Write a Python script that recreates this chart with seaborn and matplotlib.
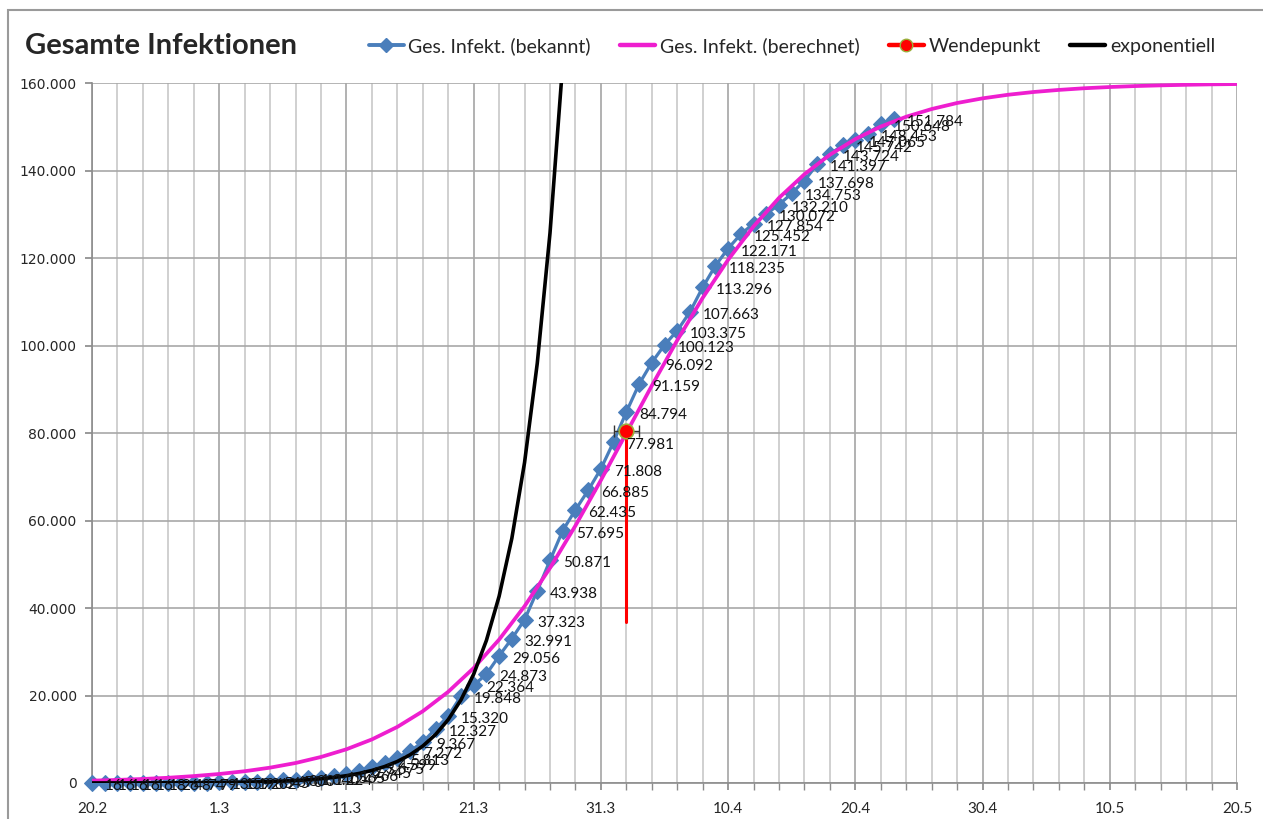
import numpy as np
import pandas as pd
import matplotlib
matplotlib.use("Agg")
import matplotlib.pyplot as plt
from matplotlib.lines import Line2D
from matplotlib.patches import Rectangle
from matplotlib.ticker import FixedLocator, FuncFormatter
import matplotlib.dates as mdates
import seaborn as sns

# ---------------- data ----------------
title = "Gesamte Infektionen"
series_names = ["Ges. Infekt. (bekannt)", "Ges. Infekt. (berechnet)", "Wendepunkt", "exponentiell"]
start_date = "2020-02-20"
end_date = "2020-05-20"
x_tick_labels = ["20.2", "1.3", "11.3", "21.3", "31.3", "10.4", "20.4", "30.4", "10.5", "20.5"]
y_ticks = [0, 20000, 40000, 60000, 80000, 100000, 120000, 140000, 160000]

# known total infections, one value per day from 20.2
known_values = [16, 16, 16, 16, 16, 18, 26, 48, 74, 79,
                130, 159, 196, 262, 545, 670, 800, 1040, 1224, 1565,
                1966, 2745, 3675, 4599, 5813, 7272, 9367, 12327, 15320, 19848,
                22364, 24873, 29056, 32991, 37323, 43938, 50871, 57695, 62435, 66885,
                71808, 77981, 84794, 91159, 96092, 100123, 103375, 107663, 113296, 118235,
                122171, 125452, 127854, 130072, 132210, 134753, 137698, 141397, 143724, 145742,
                147065, 148453, 150648, 151784]

# calculated curve, one value every 2 days from 20.2 to 20.5
calc_values = [540, 700, 920, 1200, 1580, 2060, 2690, 3510, 4570, 5950,
               7710, 9960, 12820, 16400, 20850, 26280, 32780, 40410, 49140, 58820,
               69200, 80000, 90800, 101180, 110880, 119590, 127220, 133740, 139150, 143600,
               147180, 150040, 152290, 154050, 155430, 156490, 157310, 157940, 158420, 158800,
               159080, 159300, 159460, 159590, 159690, 159760]

# exponential curve, one value per day from 20.2
exp_values = [8, 10, 13, 17, 22, 29, 38, 50, 65, 86,
              112, 147, 193, 252, 330, 433, 567, 743, 973, 1275,
              1670, 2188, 2867, 3756, 4920, 6445, 8444, 11061, 14491, 18984,
              24869, 32579, 42680, 55912, 73246, 95955, 125704, 164379]

# inflection point
wende_date = "2020-04-02"
wende_value = 80500
wende_xerr_days = 1
wende_line_bottom = 36800

# ---------------- style ----------------
blue = "#4A7EBB"
magenta = "#EE1ECF"
red = "#FF0000"
black = "#000000"
label_font = ["Lato", "DejaVu Sans"]

sns.set_theme(style="white")
plt.rcParams["font.family"] = ["DejaVu Sans"]

fig = plt.figure(figsize=(12.63, 8.19), dpi=100)
ax = fig.add_axes([92 / 1263, 1 - 783 / 819, (1237 - 92) / 1263, (783 - 83) / 819])

df_known = pd.DataFrame({"date": pd.date_range(start_date, periods=len(known_values), freq="D"),
                         "value": known_values})
df_calc = pd.DataFrame({"date": pd.date_range(start_date, periods=len(calc_values), freq="2D"),
                        "value": calc_values})
df_exp = pd.DataFrame({"date": pd.date_range(start_date, periods=len(exp_values), freq="D"),
                       "value": exp_values})

sns.lineplot(data=df_known, x="date", y="value", ax=ax, color=blue, lw=2.3,
             marker="D", markersize=7.8, markeredgecolor=blue, clip_on=False, zorder=3)
sns.lineplot(data=df_calc, x="date", y="value", ax=ax, color=magenta, lw=2.7, zorder=4)

wd = pd.Timestamp(wende_date)
ax.plot([wd, wd], [wende_value, wende_line_bottom], color=red, lw=2.2, zorder=5)
ax.errorbar([wd], [wende_value], xerr=[[pd.Timedelta(days=wende_xerr_days)], [pd.Timedelta(days=wende_xerr_days)]],
            fmt="none", ecolor="#333333", elinewidth=1, capsize=4, zorder=5)
sns.scatterplot(x=[wd], y=[wende_value], ax=ax, color=red, s=110, edgecolor="#9AAF3A",
                linewidth=1.2, zorder=6)

sns.lineplot(data=df_exp, x="date", y="value", ax=ax, color=black, lw=2.6, zorder=7)

# data labels
for d, v in zip(df_known["date"], df_known["value"]):
    ax.annotate(f"{v:,}".replace(",", "."), xy=(d, v), xytext=(13, -3), textcoords="offset pixels",
                ha="left", va="center", fontsize=11, family=label_font, color="#111111", zorder=8)

# axes
x0, x1 = pd.Timestamp(start_date), pd.Timestamp(end_date)
ax.set_xlim(x0, x1)
ax.set_ylim(0, 160000)
major_dates = pd.date_range(start_date, end_date, freq="10D")
minor_dates = pd.date_range(start_date, end_date, freq="2D")
ax.xaxis.set_major_locator(FixedLocator(mdates.date2num(major_dates)))
ax.xaxis.set_minor_locator(FixedLocator(mdates.date2num(minor_dates)))
ax.set_xticklabels(x_tick_labels, family=label_font, fontsize=11)
ax.set_yticks(y_ticks)
ax.yaxis.set_major_formatter(FuncFormatter(lambda v, p: f"{int(v):,}".replace(",", ".")))
for t in ax.get_yticklabels():
    t.set_fontsize(10)
ax.set_xlabel("")
ax.set_ylabel("")

ax.grid(which="minor", axis="x", color="#C8C8C8", lw=1.2, zorder=0)
ax.grid(which="major", axis="x", color="#A4A4A4", lw=1.2, zorder=0)
ax.grid(which="major", axis="y", color="#A8A8A8", lw=1.2, zorder=0)
ax.set_axisbelow(True)
for s in ["top", "right"]:
    ax.spines[s].set_visible(False)
for s in ["left", "bottom"]:
    ax.spines[s].set_color("#8C8C8C")
    ax.spines[s].set_linewidth(1.2)
ax.tick_params(axis="x", which="both", direction="out", length=5, color="#8C8C8C", bottom=True, pad=9)
ax.tick_params(axis="y", which="major", direction="out", length=5, color="#8C8C8C", left=True, pad=6)

# outer frame
fig.patches.append(Rectangle((8 / 1263, -0.1), 1.2, 1 - 10 / 819 + 0.1, transform=fig.transFigure,
                             fill=False, edgecolor="#9A9A9A", lw=1.5))

# title
fig.text(25 / 1263, 1 - 46 / 819, title, fontsize=21, weight="bold", va="center", ha="left",
         family=["Lato", "DejaVu Sans"])

# legend
handles = [
    Line2D([], [], color=blue, lw=2.8, marker="D", markersize=7),
    Line2D([], [], color=magenta, lw=3.2),
    Line2D([], [], color=red, lw=3.2, marker="o", markersize=9, markeredgecolor="#9AAF3A"),
    Line2D([], [], color=black, lw=3.2),
]
fig.legend(handles, series_names, loc="center left", bbox_to_anchor=(355 / 1263, 1 - 46 / 819),
           ncol=4, frameon=False, handlelength=1.8, handletextpad=0.25, columnspacing=1.5,
           borderpad=0.2, prop={"family": ["Lato", "DejaVu Sans"], "size": 14})

fig.savefig("out.png", dpi=100)
